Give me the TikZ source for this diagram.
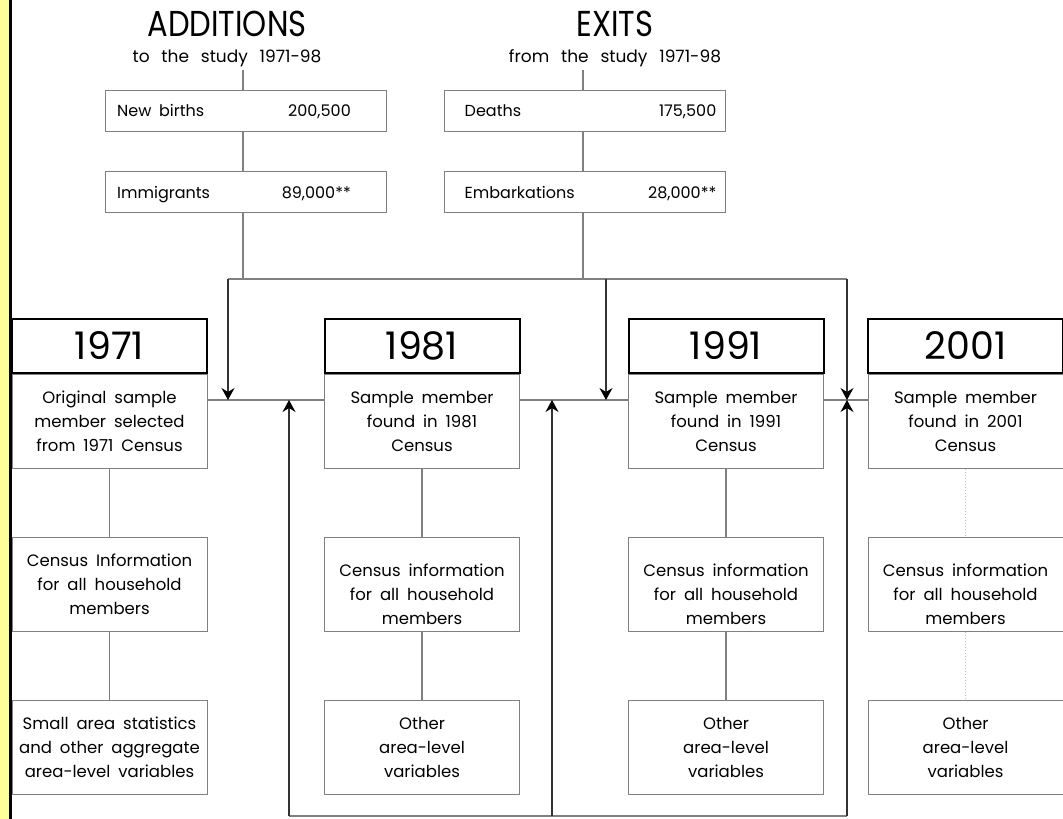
\documentclass[tikz,border=0pt]{standalone}
\usepackage{fontspec}
\setmainfont{Poppins}[WordSpace=1.8]
\newfontfamily\titlefont{Poppins}[FakeStretch=0.85]
\newfontfamily\widefont{Poppins}[WordSpace=2.6]
\usetikzlibrary{arrows.meta,positioning,calc}
\definecolor{linegray}{gray}{0.5}
\definecolor{stripyellow}{RGB}{255,255,153}
\tikzset{
    yearbox/.style={draw, line width=2pt, minimum width=195pt, minimum height=54pt, inner sep=0pt,
                    font=\fontsize{38}{40}\selectfont},
    infobox/.style={draw=linegray, line width=1pt, minimum width=195pt, minimum height=94pt, inner sep=0pt,
                    align=center, font=\fontsize{16.5}{24}\selectfont},
    infotext/.style={align=center, inner sep=0pt, font=\fontsize{16.5}{24}\selectfont},
    flowbox/.style={draw=linegray, line width=1pt, minimum width=281pt, minimum height=41pt, inner sep=0pt},
    boxtext/.style={font=\fontsize{16}{18}\selectfont, inner sep=0pt},
    bigtitle/.style={font=\titlefont\fontsize{36}{40}\selectfont},
    subtitle/.style={font=\widefont\fontsize{17}{18}\selectfont},
    link/.style={draw=linegray, line width=1.2pt},
    faint/.style={draw=gray!50, line width=1pt, dotted},
    flow/.style={draw=black!80, line width=1.2pt, -{Stealth[length=12pt,width=13pt,inset=4pt,line width=1pt,fill=black,color=black]}},
}
\begin{document}
\begin{tikzpicture}[x=1pt,y=-1pt]
    \useasboundingbox (0,0) rectangle (1063,819);
    % left margin strip
    \fill[stripyellow] (0,0) rectangle (9,819);
    \draw[line width=2.5pt] (10.25,0) -- (10.25,819);

    % Additions to the study
    \node[bigtitle] (addT) at (227,24) {ADDITIONS};
    \node[subtitle] (addS) at (227,58) {to the study 1971-98};
    \node[flowbox] (births) at (246,110.5) {};
    \node[flowbox] (immig) at (246,192) {};
    \node[boxtext, anchor=base west] (birthsL) at ([xshift=12pt,yshift=-6pt]births.west) {New births};
    \node[boxtext, anchor=base east] (birthsN) at ([xshift=-36pt,yshift=-6pt]births.east) {200,500};
    \node[boxtext, anchor=base west] (immigL) at ([xshift=12pt,yshift=-6pt]immig.west) {Immigrants};
    \node[boxtext, anchor=base east] (immigN) at ([xshift=-36pt,yshift=-6pt]immig.east) {89,000**};

    % Exits from the study
    \node[bigtitle] (exitT) at (615,24) {EXITS};
    \node[subtitle] (exitS) at (615,58) {from the study 1971-98};
    \node[flowbox] (deaths) at (584.5,110.5) {};
    \node[flowbox] (embark) at (584.5,192) {};
    \node[boxtext, anchor=base west] (deathsL) at ([xshift=21pt,yshift=-6pt]deaths.west) {Deaths};
    \node[boxtext, anchor=base east] (deathsN) at ([xshift=-9pt,yshift=-6pt]deaths.east) {175,500};
    \node[boxtext, anchor=base west] (embarkL) at ([xshift=21pt,yshift=-6pt]embark.west) {Embarkations};
    \node[boxtext, anchor=base east] (embarkN) at ([xshift=-9pt,yshift=-6pt]embark.east) {28,000**};

    % Census years
    \node[yearbox] (y71) at (109.5,346) {1971};
    \node[yearbox] (y81) at (422,346) {1981};
    \node[yearbox] (y91) at (726,346) {1991};
    \node[yearbox] (y01) at (965.5,346) {2001};

    \node[infobox, below=0pt of y71] (s71) {Original sample\\member selected\\from 1971 Census};
    \node[infobox, below=0pt of y81] (s81) {Sample member\\found in 1981\\Census};
    \node[infobox, below=0pt of y91] (s91) {Sample member\\found in 1991\\Census};
    \node[infobox, below=0pt of y01] (s01) {Sample member\\found in 2001\\Census};

    \node[infobox, below=68pt of s71] (c71) {Census Information\\for all household\\members};
    \node[infobox, below=68pt of s81] (c81) {};
    \node[infobox, below=68pt of s91] (c91) {};
    \node[infobox, below=68pt of s01] (c01) {};
    \foreach \yr in {81,91,01}
        \node[infotext] (c\yr t) at ([yshift=-10pt]c\yr.center) {Census information\\for all household\\members};

    \node[infobox, below=68pt of c71] (a71) {Small area statistics\\and other aggregate\\area-level variables};
    \node[infobox, below=68pt of c81] (a81) {Other\\area-level\\variables};
    \node[infobox, below=68pt of c91] (a91) {Other\\area-level\\variables};
    \node[infobox, below=68pt of c01] (a01) {Other\\area-level\\variables};

    % column links
    \foreach \yr in {71,81,91} {
        \draw[link] (s\yr) -- (c\yr);
        \draw[link] (c\yr) -- (a\yr);
    }
    \draw[faint] (s01) -- (c01);
    \draw[faint] (c01) -- (a01);

    % junction points
    \coordinate (jA) at (243,279);
    \coordinate (jE) at (583,279);
    \coordinate (tL) at (228,279);
    \coordinate (t91) at (606,279);
    \coordinate (tR) at (847,279);
    \coordinate (m71) at (228,400);
    \coordinate (m91) at (606,400);
    \coordinate (m01) at (847,400);
    \coordinate (u81) at (289,400);
    \coordinate (u91) at (552,400);
    \coordinate (bL) at (289,816);
    \coordinate (bM) at (552,816);
    \coordinate (bR) at (847,816);

    % additions and exits into the study
    \draw[link] (addS.south -| jA) -- (births.north -| jA);
    \draw[link] (births.south -| jA) -- (immig.north -| jA);
    \draw[link] (immig.south -| jA) -- (jA);
    \draw[link] (exitS.south -| jE) -- (deaths.north -| jE);
    \draw[link] (deaths.south -| jE) -- (embark.north -| jE);
    \draw[link] (embark.south -| jE) -- (jE);
    \draw[link] (tL) -- (tR);

    % links between censuses
    \draw[link] (s71.east |- m71) -- (s81.west |- m71);
    \draw[link] (s81.east |- m71) -- (s91.west |- m71);
    \draw[link] (s91.east |- m71) -- (s01.west |- m71);

    % arrows
    \draw[flow] (tL) -- (m71);
    \draw[flow] (t91) -- (m91);
    \draw[flow] (tR) -- (m01);
    \draw[link] (bL) -- (bR);
    \draw[flow] (bL) -- (u81);
    \draw[flow] (bM) -- (u91);
    \draw[flow] (bR) -- (m01);
\end{tikzpicture}
\end{document}
